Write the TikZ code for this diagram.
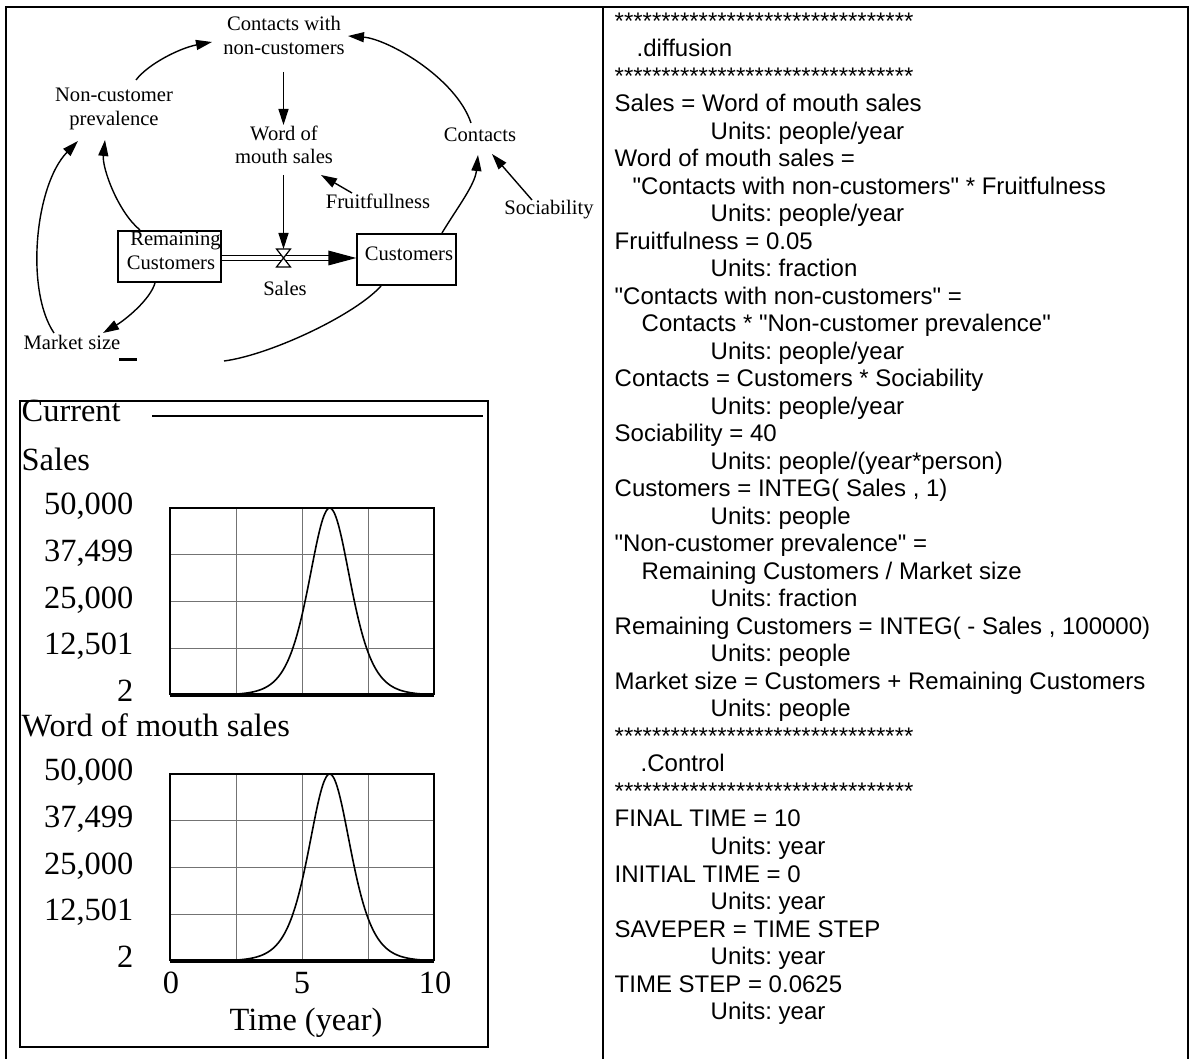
\documentclass[tikz,border=0pt]{standalone}
\usepackage{fontspec}
\setmainfont{Liberation Serif}
\newfontfamily\eqfont[Ligatures=TeXOff]{Liberation Sans}
\usetikzlibrary{arrows.meta}
\frenchspacing

\begin{document}
\begin{tikzpicture}[x=0.5pt,y=-0.5pt,line width=0.7pt,
  dtext/.style={inner sep=0pt, align=center, font=\fontsize{10.3}{11.75}\selectfont},
  ctext/.style={inner sep=0pt, font=\fontsize{16.2}{18}\selectfont},
  eq/.style={anchor=base west, inner sep=0pt, font=\eqfont\fontsize{12}{14}\selectfont},
  link/.style={-{Triangle[length=8pt,width=5pt]}},
  stockbox/.style={draw, inner sep=0pt, minimum height=25.5pt},
  frameline/.style={line width=0.8pt},
  gridline/.style={line width=0.4pt, black!55},
  plotbox/.style={line width=0.9pt},
  curve/.style={line width=0.8pt},
]
\useasboundingbox (0,0) rectangle (1191,1059);

% ---------- panel frames ----------
\draw[frameline] (6,1059) -- (6,7) -- (1188,7) -- (1188,1059);
\draw[frameline] (603,7) -- (603,1059);

% ---------- stock and flow diagram ----------
\node[dtext] (cwn) at (284,35.25) {Contacts with\\non-customers};
\node[dtext] (ncp) at (114,108.75) {Non-customer\\prevalence};
\node[dtext] (wom) at (284,145) {Word of\\mouth sales};
\node[dtext, anchor=base] (con) at (480,142) {Contacts};
\node[dtext, anchor=base] (fru) at (378,209) {Fruitfullness};
\node[dtext, anchor=base] (soc) at (549,215) {Sociability};
\node[dtext, anchor=base] (mkt) at (72,350) {Market size};
\node[dtext, anchor=base] (sal) at (285,296) {Sales};

\node[stockbox, minimum width=51.5pt] (rem) at (169.5,256.5) {};
\node[dtext, anchor=base] (remA) at (175.5,246) {Remaining};
\node[dtext, anchor=base] (remB) at (171,270) {Customers};
\node[stockbox, minimum width=49.5pt] (cus) at (406.5,259.5) {};
\node[dtext, anchor=base] (cusT) at (409,261) {Customers};

% flow pipe with valve
\coordinate (valve) at (283.5,258);
\draw ([shift={(0,-1)}]rem.east) -- ([shift={(-27,-4)}]cus.west);
\draw ([shift={(0,4)}]rem.east) -- ([shift={(-27,1)}]cus.west);
\fill ([shift={(-28,-9)}]cus.west) -- ([shift={(0,-1.5)}]cus.west) -- ([shift={(-28,6)}]cus.west) -- cycle;
\draw[fill=white, line width=0.6pt] ([shift={(-7,-9)}]valve) -- ([shift={(7,-9)}]valve) -- (valve) -- cycle;
\draw[fill=white, line width=0.6pt] ([shift={(-7,9)}]valve) -- ([shift={(7,9)}]valve) -- (valve) -- cycle;

% causal links
\draw[link] ([shift={(22,-28.75)}]ncp.center) .. controls +(12,-16) and +(-32,6) .. ([shift={(-72,6.75)}]cwn.center);
\draw[link] ([shift={(-9,-19)}]con.base) .. controls +(-15,-45) and +(40,3) .. ([shift={(64,0.75)}]cwn.center);
\draw[link] ([shift={(-0.5,36.75)}]cwn.center) -- ([shift={(-0.5,-20)}]wom.center);
\draw[link] ([shift={(-0.5,30)}]wom.center) -- ([shift={(0,-9)}]valve);
\draw[link] ([shift={(-26,-16)}]fru.base) -- ([shift={(37,30)}]wom.center);
\draw[link] ([shift={(-17,-15)}]soc.base) -- ([shift={(12,12)}]con.base);
\draw[link] ([shift={(35.5,-26.5)}]cus.center) .. controls +(15,-25) and +(-3,30) .. ([shift={(-2,13)}]con.base);
\draw[link] ([shift={(-29.5,-26.5)}]rem.center) .. controls +(-22,-18) and +(-3,28) .. ([shift={(-9,31.25)}]ncp.center);
\draw[link] ([shift={(-14.5,26.5)}]rem.center) .. controls +(-5,17) and +(22,-13) .. ([shift={(31,-17)}]mkt.base);
\draw[link] ([shift={(-18,-17)}]mkt.base) .. controls +(-29,-43) and +(-43,44) .. ([shift={(-36,32.25)}]ncp.center);
\coordinate (loopend) at (224,361);
\draw ([shift={(-25.5,26.5)}]cus.center) .. controls +(-26,29) and +(46,-6) .. (loopend);
\draw[line width=1.5pt] (119,359.5) -- (137,359.5);

% ---------- graphs ----------
\draw[line width=0.9pt] (20,401) rectangle (488,1047);
\node[ctext, anchor=base west] (cur) at (21,422) {Current};
\draw[line width=0.8pt] (152,416) -- (483,416);
\node[ctext, anchor=base west] (g1) at (21,471) {Sales};
\node[ctext, anchor=base west] (g2) at (21,737) {Word of mouth sales};

\foreach \top/\bot in {508/695,774/961} {
  \foreach \i in {1,2,3} {
    \draw[gridline] ({170+66*\i},\top) -- ({170+66*\i},\bot);
    \draw[gridline] (170,{\top+46.75*\i}) -- (434,{\top+46.75*\i});
  }
  \draw[plotbox] (170,\bot) -- (170,\top) -- (434,\top) -- (434,\bot);
  \draw[line width=1.6pt] (170,\bot) -- (434,\bot);
  \draw[curve] plot[domain=0:10, samples=241]
    ({170+26.4*\x},{\bot-187*(1/cosh(0.942*(\x-6.05)))^2});
  \foreach \i/\lab in {0/{50,000},1/{37,499},2/{25,000},3/{12,501},4/{2}} {
    \node[ctext, anchor=base east] (ylab\top-\i) at (134,{\top+46.75*\i+6.7}) {\lab};
  }
}
\node[ctext, anchor=base] (x0) at (171,993.5) {0};
\node[ctext, anchor=base] (x5) at (302,993.5) {5};
\node[ctext, anchor=base] (x10) at (435,993.5) {10};
\node[ctext, anchor=base] (xt) at (306,1030) {Time (year)};

% ---------- model equations ----------
\node[eq] (q0) at (614,29.5) {********************************};
\node[eq] (q1) at (636,57) {.diffusion};
\node[eq] (q2) at (614,84.5) {********************************};
\node[eq] (q3) at (614,112) {Sales = Word of mouth sales};
\node[eq] (q4) at (710,139.5) {Units: people/year};
\node[eq] (q5) at (614,167) {Word of mouth sales =};
\node[eq] (q6) at (632,194.5) {"Contacts with non-customers" * Fruitfulness};
\node[eq] (q7) at (710,222) {Units: people/year};
\node[eq] (q8) at (614,249.5) {Fruitfulness = 0.05};
\node[eq] (q9) at (710,277) {Units: fraction};
\node[eq] (q10) at (614,304.5) {"Contacts with non-customers" =};
\node[eq] (q11) at (641,332) {Contacts * "Non-customer prevalence"};
\node[eq] (q12) at (710,359.5) {Units: people/year};
\node[eq] (q13) at (614,387) {Contacts = Customers * Sociability};
\node[eq] (q14) at (710,414.5) {Units: people/year};
\node[eq] (q15) at (614,442) {Sociability = 40};
\node[eq] (q16) at (710,469.5) {Units: people/(year*person)};
\node[eq] (q17) at (614,497) {Customers = INTEG( Sales , 1)};
\node[eq] (q18) at (710,524.5) {Units: people};
\node[eq] (q19) at (614,552) {"Non-customer prevalence" =};
\node[eq] (q20) at (641,579.5) {Remaining Customers / Market size};
\node[eq] (q21) at (710,607) {Units: fraction};
\node[eq] (q22) at (614,634.5) {Remaining Customers = INTEG( - Sales , 100000)};
\node[eq] (q23) at (710,662) {Units: people};
\node[eq] (q24) at (614,689.5) {Market size = Customers + Remaining Customers};
\node[eq] (q25) at (710,717) {Units: people};
\node[eq] (q26) at (614,744.5) {********************************};
\node[eq] (q27) at (640,772) {.Control};
\node[eq] (q28) at (614,799.5) {********************************};
\node[eq] (q29) at (614,827) {FINAL TIME = 10};
\node[eq] (q30) at (710,854.5) {Units: year};
\node[eq] (q31) at (614,882) {INITIAL TIME = 0};
\node[eq] (q32) at (710,909.5) {Units: year};
\node[eq] (q33) at (614,937) {SAVEPER = TIME STEP};
\node[eq] (q34) at (710,964.5) {Units: year};
\node[eq] (q35) at (614,992) {TIME STEP = 0.0625};
\node[eq] (q36) at (710,1019.5) {Units: year};
\end{tikzpicture}
\end{document}
